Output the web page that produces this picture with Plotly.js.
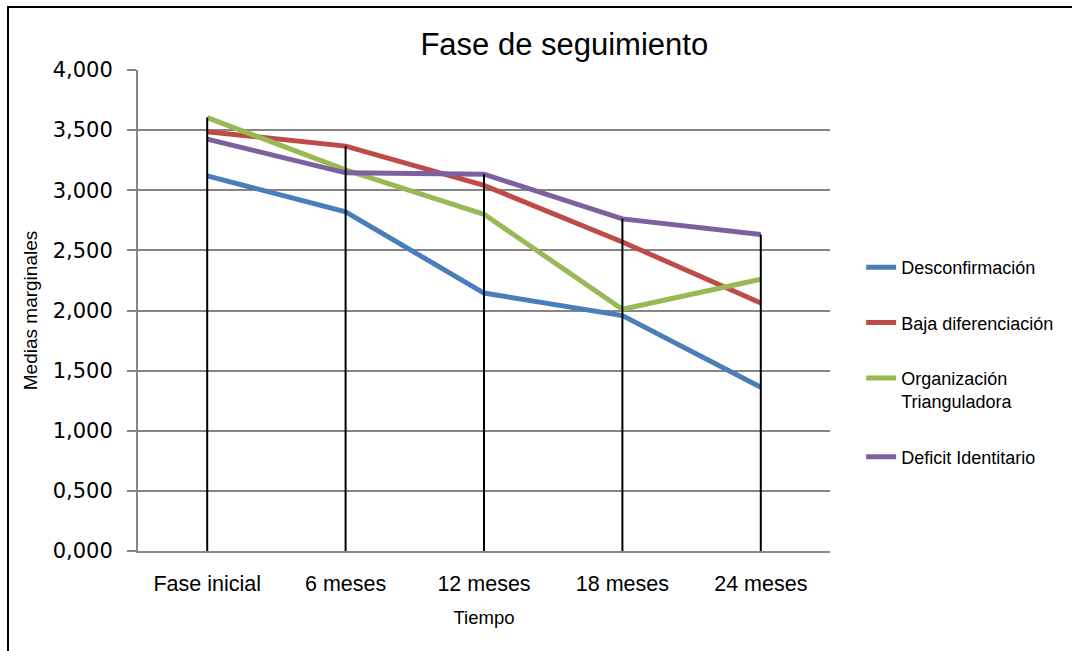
<!DOCTYPE html>
<html>
<head>
<meta charset="utf-8">
<script src="https://cdn.plot.ly/plotly-3.0.1.min.js"></script>
<style>
  html, body { margin: 0; padding: 0; background: #ffffff; }
  #wrap { position: relative; width: 1072px; height: 651px; overflow: hidden; }
  #chart { width: 1072px; height: 651px; }
  #frame {
    position: absolute; left: 7px; top: 6px; width: 1200px; height: 800px;
    border-left: 2px solid #000; border-top: 2px solid #000;
    pointer-events: none; box-sizing: border-box;
  }
</style>
</head>
<body>
<div id="wrap">
  <div id="chart"></div>
  <div id="frame"></div>
</div>
<script>
// Time points of the follow-up phase
const tiempos = ["Fase inicial", "6 meses", "12 meses", "18 meses", "24 meses"];

// Estimated marginal means per factor
const desconfirmacion = [3.120, 2.820, 2.145, 1.958, 1.362];
const bajaDiferenciacion = [3.487, 3.367, 3.040, 2.570, 2.062];
const organizacionTriang = [3.604, 3.170, 2.800, 2.010, 2.260];
const deficitIdentitario = [3.425, 3.145, 3.134, 2.762, 2.632];

const nombres = ["Desconfirmación", "Baja diferenciación", "Organización<br>Trianguladora", "Deficit Identitario"];
const colores = ["#4a7ebb", "#be4b48", "#98b954", "#7d60a0"];
const series = [desconfirmacion, bajaDiferenciacion, organizacionTriang, deficitIdentitario];

const sans = "Liberation Sans, Arial, sans-serif";

const traces = series.map((vals, i) => ({
  type: "scatter",
  mode: "lines",
  name: nombres[i],
  legendgroup: "g" + i,
  x: tiempos,
  y: vals,
  line: { color: colores[i], width: 5 },
  hoverinfo: "x+y+name"
}));

// Drop lines: from zero up to the highest series value at each time point
const dropX = [], dropY = [];
tiempos.forEach((t, j) => {
  const top = Math.max(...series.map(s => s[j]));
  dropX.push(t, t, null);
  dropY.push(0, top, null);
});
traces.push({
  type: "scatter",
  mode: "lines",
  x: dropX,
  y: dropY,
  line: { color: "#000000", width: 2 },
  showlegend: false,
  hoverinfo: "skip"
});

const layout = {
  width: 1072,
  height: 651,
  margin: { l: 138, r: 242, t: 70, b: 100 },
  paper_bgcolor: "#ffffff",
  plot_bgcolor: "#ffffff",
  separators: ",.",
  showlegend: true,
  title: {
    text: "Fase de seguimiento",
    font: { family: sans, size: 31, color: "#000" },
    xref: "paper", x: 0.616, xanchor: "center",
    yref: "container", y: 0.932, yanchor: "middle"
  },
  xaxis: {
    type: "category",
    range: [-0.5, 4.5],
    showgrid: false,
    showline: true,
    linecolor: "#868686",
    linewidth: 2,
    ticks: "",
    ticklabelstandoff: 12,
    tickfont: { family: sans, size: 21.5, color: "#000" },
    title: { text: "Tiempo", font: { family: sans, size: 18.5, color: "#000" }, standoff: 16 },
    zeroline: false,
    fixedrange: true
  },
  yaxis: {
    range: [0, 4],
    dtick: 0.5,
    tick0: 0,
    tickformat: ".3f",
    showgrid: true,
    gridcolor: "#868686",
    gridwidth: 2,
    showline: true,
    linecolor: "#868686",
    linewidth: 2,
    ticks: "outside",
    ticklen: 9,
    tickwidth: 2,
    tickcolor: "#868686",
    ticklabelstandoff: 10,
    tickfont: { family: "DejaVu Sans, Verdana, sans-serif", size: 21, color: "#000" },
    title: { text: "Medias marginales", font: { family: sans, size: 19, color: "#000" }, standoff: 10 },
    zeroline: false,
    fixedrange: true
  },
  legend: {
    x: 1.045, xanchor: "left",
    y: 0.628, yanchor: "top",
    valign: "top",
    tracegroupgap: 29,
    font: { family: sans, size: 18, color: "#000" },
    bgcolor: "rgba(0,0,0,0)"
  }
};

Plotly.newPlot("chart", traces, layout, { displayModeBar: false, staticPlot: true });
</script>
</body>
</html>
